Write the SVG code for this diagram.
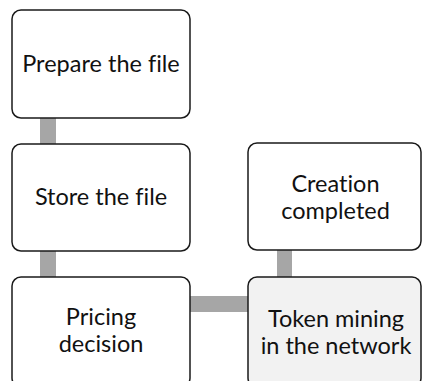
<svg xmlns="http://www.w3.org/2000/svg" width="422" height="381" viewBox="0 0 422 381">
  <style>
    .box { fill: #ffffff; stroke: #1a1a1a; stroke-width: 1.5; }
    .box.alt { fill: #f2f2f2; }
    .link { fill: #a6a6a6; stroke: none; }
    text { font-family: "Lato", "Open Sans", "Liberation Sans", sans-serif; font-size: 23.5px; fill: #111111; text-anchor: middle; font-variant-ligatures: none; }
  </style>
  <rect width="422" height="381" fill="#ffffff"/>
  <g id="connectors">
    <rect class="link" x="40" y="118" width="16" height="27"/>
    <rect class="link" x="40" y="251" width="16" height="26"/>
    <rect class="link" x="190" y="296" width="58" height="16"/>
    <rect class="link" x="277" y="249" width="15" height="28"/>
  </g>
  <g id="prepare">
    <rect class="box" x="12" y="10" width="178" height="108" rx="9"/>
    <text x="101" y="72">Prepare the file</text>
  </g>
  <g id="store">
    <rect class="box" x="12" y="144" width="178" height="107" rx="9"/>
    <text x="101" y="205">Store the file</text>
  </g>
  <g id="pricing">
    <rect class="box" x="12" y="277" width="178" height="110" rx="9"/>
    <text x="101" y="325">Pricing</text>
    <text x="101" y="352">decision</text>
  </g>
  <g id="creation">
    <rect class="box" x="248" y="143" width="173" height="107" rx="9"/>
    <text x="335.5" y="192">Creation</text>
    <text x="335.5" y="218.5">completed</text>
  </g>
  <g id="mining">
    <rect class="box alt" x="248" y="277" width="173" height="110" rx="9"/>
    <text x="336" y="327">Token mining</text>
    <text x="336" y="353.5">in the network</text>
  </g>
</svg>
